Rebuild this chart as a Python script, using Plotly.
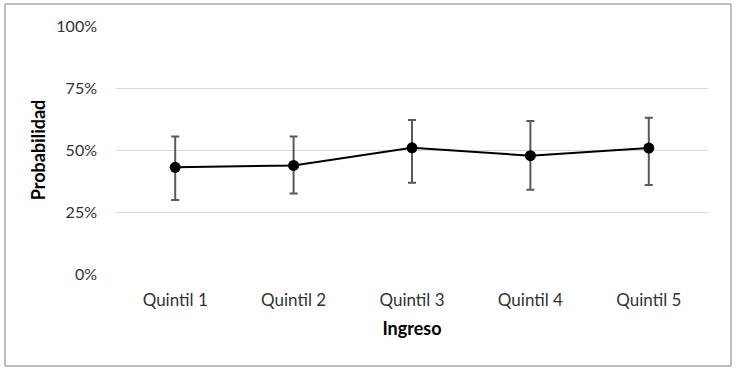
import plotly.graph_objects as go

categories = ["Quintil 1", "Quintil 2", "Quintil 3", "Quintil 4", "Quintil 5"]
prob = [0.430, 0.438, 0.509, 0.477, 0.508]
upper = [0.554, 0.554, 0.621, 0.617, 0.630]
lower = [0.298, 0.325, 0.368, 0.340, 0.359]

err_plus = [u - p for u, p in zip(upper, prob)]
err_minus = [p - l for p, l in zip(prob, lower)]

font_family = "Lato, 'Open Sans', sans-serif"

fig = go.Figure()
fig.add_trace(go.Scatter(
    x=categories, y=prob, mode="lines+markers",
    line=dict(color="black", width=2),
    marker=dict(color="black", size=11),
    error_y=dict(type="data", symmetric=False, array=err_plus, arrayminus=err_minus,
                 color="#595959", thickness=2, width=4),
    showlegend=False,
))

fig.update_layout(
    width=736, height=370,
    margin=dict(l=116, r=28, t=26, b=96),
    paper_bgcolor="white", plot_bgcolor="white",
    font=dict(family=font_family, size=16, color="#333333"),
    xaxis=dict(
        type="category", range=[-0.5, 4.5], showgrid=False, showline=False,
        ticks="", ticklabelstandoff=14, tickfont=dict(size=17),
        title=dict(text="<b>Ingreso</b>", font=dict(size=18, color="black"), standoff=13),
    ),
    yaxis=dict(
        range=[0, 1], tickvals=[0, 0.25, 0.5, 0.75, 1.0], tickformat=".0%",
        showgrid=True, gridcolor="#d9d9d9", gridwidth=1, zeroline=False,
        showline=False, ticks="", ticklabelstandoff=18, tickfont=dict(size=16),
        title=dict(text="<b>Probabilidad</b>", font=dict(size=18, color="black"), standoff=6),
    ),
    shapes=[dict(type="rect", xref="paper", yref="paper",
                 x0=-0.1875, x1=1.0389, y0=-0.371, y1=1.0887,
                 line=dict(color="#808080", width=1), fillcolor="rgba(0,0,0,0)", layer="below")],
)

fig.write_html("out.html", config={"displayModeBar": False},
               post_script="document.body.style.margin='0';document.body.style.overflow='hidden';")
